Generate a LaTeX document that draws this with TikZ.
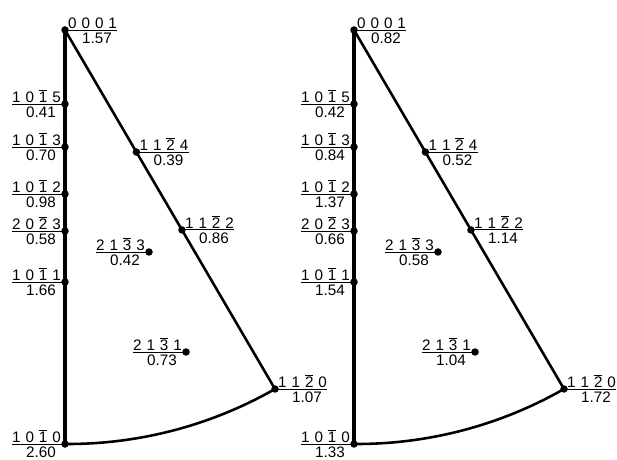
\documentclass[tikz,border=0pt]{standalone}
\usepackage{fontspec}
\setmainfont{Liberation Sans}
\usepackage{tikz}
\usetikzlibrary{calc}

\tikzset{
  pole/.style={circle, fill=black, inner sep=0pt, minimum size=6.4pt},
  idx/.style={inner sep=0pt, font={\fontsize{13}{15}\selectfont\spaceskip=4.2pt\relax}},
  val/.style={inner sep=0pt, font=\fontsize{13}{15}\selectfont},
  uline/.style={line width=0.8pt},
  rim/.style={line width=2.2pt},
}
\newcommand{\ob}[1]{$\overline{\mbox{#1}}$}
% label to the left of a pole
\newcommand{\lblL}[3]{%
  \node[idx, anchor=south east] (#1i) at ($(#1)+(-4,-1.5)$) {#2};
  \node[val, anchor=north east] (#1v) at ($(#1i.south east)+(-5,4.5)$) {#3};
  \draw[uline] (#1.center) -- (#1.center -| #1i.west);}
% label to the right of a pole
\newcommand{\lblR}[3]{%
  \node[idx, anchor=south west] (#1i) at ($(#1)+(3,-1.5)$) {#2};
  \node[val, anchor=north east] (#1v) at ($(#1i.south east)+(-5,4.5)$) {#3};
  \draw[uline] (#1.center) -- (#1.center -| #1i.east);}

\begin{document}
\begin{tikzpicture}[x=0.03cm, y=-0.03cm]
  \useasboundingbox (0,0) rectangle (617,460);
  \foreach \sx/\va/\vb/\vc/\vd/\ve/\vf/\vg/\vh/\vi/\vj/\vk/\vl in
    {0/1.57/0.41/0.70/0.98/0.58/1.66/2.60/0.39/0.86/1.07/0.42/0.73,
     289/0.82/0.42/0.84/1.37/0.66/1.54/1.33/0.52/1.14/1.72/0.58/1.04}{
    % poles
    \node[pole] (p0001) at (\sx+65,30) {};
    \node[pole] (p1015) at (\sx+65,104) {};
    \node[pole] (p1013) at (\sx+65,147) {};
    \node[pole] (p1012) at (\sx+65,194) {};
    \node[pole] (p2023) at (\sx+65,231) {};
    \node[pole] (p1011) at (\sx+65,282) {};
    \node[pole] (p1010) at (\sx+65,444) {};
    \node[pole] (p1120) at (\sx+275,389) {};
    \node[pole] (p1124) at ($(p0001)!0.34!(p1120)$) {};
    \node[pole] (p1122) at ($(p0001)!0.557!(p1120)$) {};
    \node[pole] (p2133) at (\sx+149,252) {};
    \node[pole] (p2131) at (\sx+186,352) {};
    % triangle
    \draw[rim, line width=2.6pt] (p0001.center) -- (p1010.center);
    \draw[rim] (p0001.center) -- (p1120.center);
    \draw[rim] (p1010.center) to[bend right=15, looseness=0.87] (p1120.center);
    % labels
    \lblR{p0001}{0 0 0 1}{\va}
    \lblL{p1015}{1 0 \ob{1} 5}{\vb}
    \lblL{p1013}{1 0 \ob{1} 3}{\vc}
    \lblL{p1012}{1 0 \ob{1} 2}{\vd}
    \lblL{p2023}{2 0 \ob{2} 3}{\ve}
    \lblL{p1011}{1 0 \ob{1} 1}{\vf}
    \lblL{p1010}{1 0 \ob{1} 0}{\vg}
    \lblR{p1124}{1 1 \ob{2} 4}{\vh}
    \lblR{p1122}{1 1 \ob{2} 2}{\vi}
    \lblR{p1120}{1 1 \ob{2} 0}{\vj}
    \lblL{p2133}{2 1 \ob{3} 3}{\vk}
    \lblL{p2131}{2 1 \ob{3} 1}{\vl}
  }
\end{tikzpicture}
\end{document}
